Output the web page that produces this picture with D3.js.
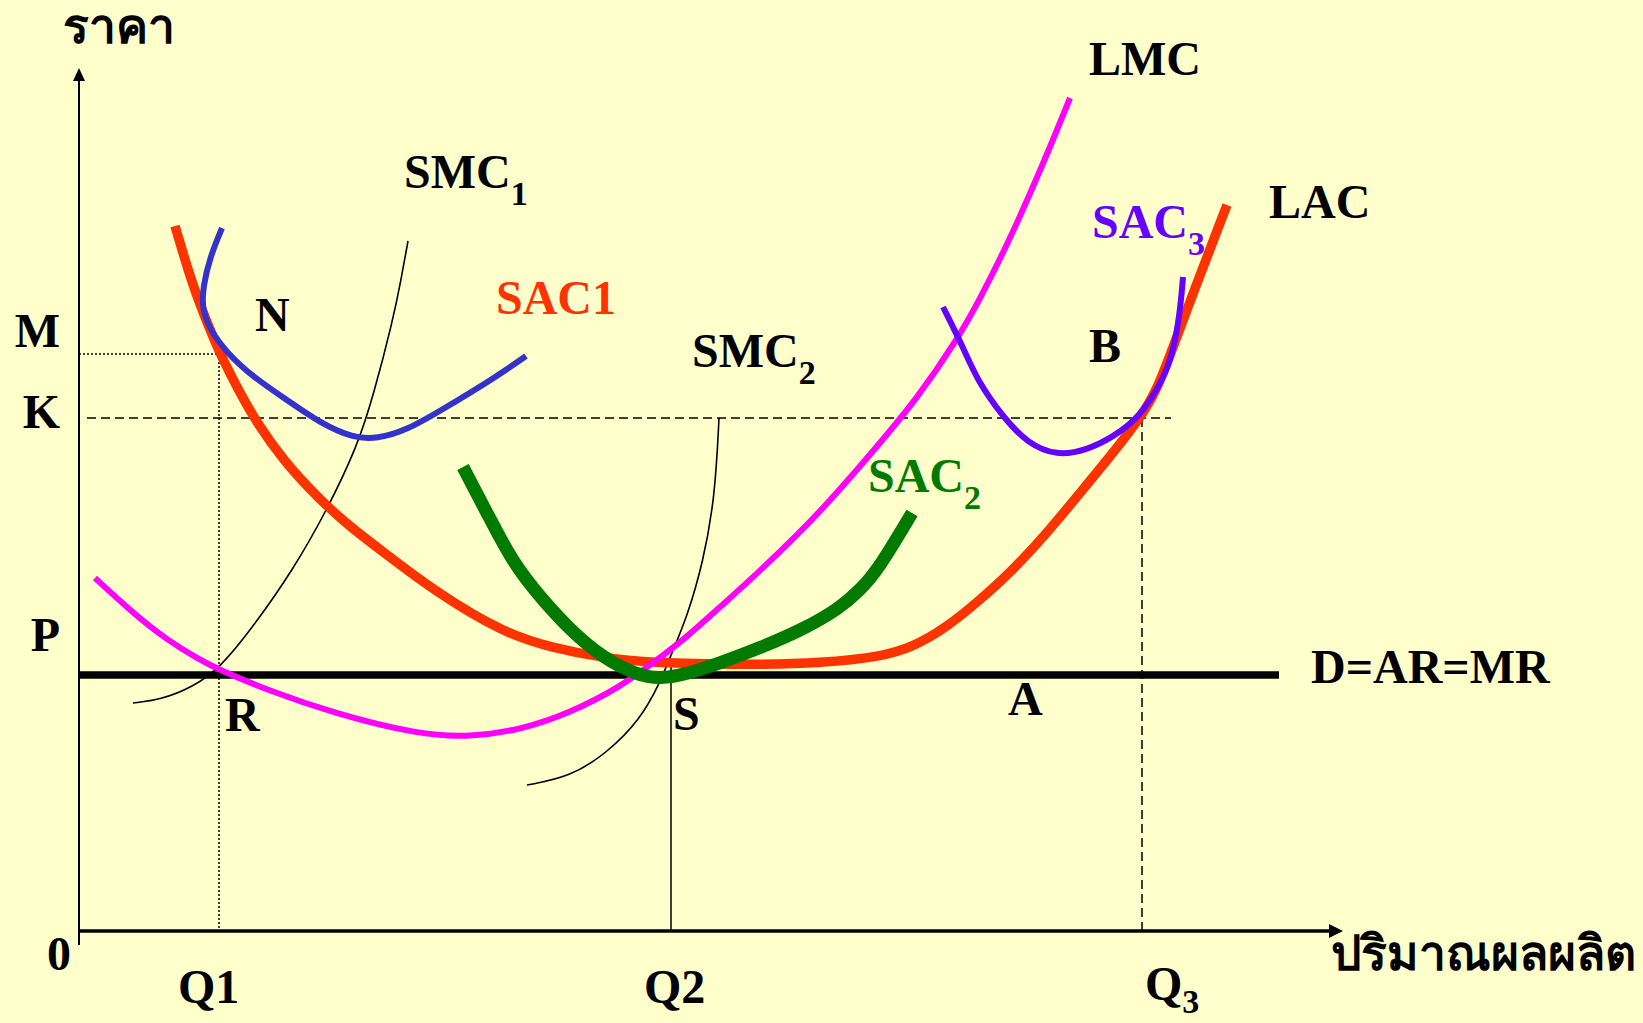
<!DOCTYPE html>
<html lang="th">
<head>
<meta charset="utf-8">
<title>LAC / SAC</title>
<script src="https://d3js.org/d3.v7.min.js"></script>
<style>
  html, body { margin: 0; padding: 0; background: #FFFFCC; }
  svg { display: block; }
  text { font-family: "Liberation Serif", "Times New Roman", serif; font-weight: bold; fill: #000; }
  .thai { font-family: "Liberation Serif", "DejaVu Serif", "DejaVu Sans", serif; }
</style>
</head>
<body>
<div id="chart"></div>
<script>
// --- data (quantity, price) --------------------------------------------
var lacPts = [[9.6,70.5],[11.4,64.4],[13.1,60.1],[14.4,57.1],[16.1,53.8],[17.8,50.8],[20.4,47.1],
  [23.8,43.4],[27.1,40.4],[31.1,37.4],[35.4,34.1],[42.4,29.8],[47.4,28.3],[52.4,27.3],[57.4,26.8],
  [68.1,26.6],[74.1,26.8],[80.1,27.4],[83.4,28.4],[86.8,30.4],[90.1,33.1],[93.4,36.1],[96.8,39.8],
  [100.1,43.8],[103.4,47.8],[106.1,51.3],[107.7,53.9],[109.3,58.1],[111.8,64.8],[114.1,70.8],
  [114.8,72.6]];
var sac1Pts = [[14.3,70.3],[13.1,67.4],[12.4,64.4],[12.3,62.3],[13.1,60.1],[14.8,57.8],[17.4,55.4],
  [20.8,53.1],[24.1,50.8],[27.4,49.3],[29.8,49.2],[32.8,50.1],[36.1,52.0],[41.7,55.4],[44.7,57.5]];
var smc1Pts = [[32.9,69.0],[32.2,65.1],[31.4,61.1],[29.4,53.4],[27.8,48.4],[24.8,42.1],[21.4,36.1],
  [17.4,30.4],[14.1,26.3],[11.4,24.4],[8.1,23.1],[5.4,22.8]];
var lmcPts = [[1.6,35.3],[5.4,31.8],[8.8,29.1],[12.1,27.1],[14.1,26.1],[18.8,24.1],[25.4,21.8],
  [34.1,19.6],[39.1,19.4],[44.1,20.1],[49.1,21.8],[54.1,24.4],[57.4,26.8],[60.8,29.4],[64.1,32.4],
  [68.1,36.0],[74.1,41.8],[80.1,48.8],[83.7,53.1],[87.8,59.1],[90.1,63.2],[92.8,68.6],[95.1,73.7],
  [97.4,79.1],[99.1,83.3]];
var smc2Pts = [[64.0,51.3],[63.6,43.4],[62.4,36.8],[60.8,31.4],[59.4,28.1],[58.1,24.8],[56.1,21.1],
  [52.8,17.8],[49.1,15.4],[44.8,14.6]];
var sac2Pts = [[38.4,46.4],[40.8,41.8],[43.4,36.8],[46.1,33.4],[49.1,30.1],[52.4,27.3],[55.8,25.6],
  [58.1,25.2],[60.8,25.7],[64.1,26.8],[68.1,28.3],[72.5,30.2],[76.1,32.3],[78.1,34.1],[79.9,36.1],
  [83.3,41.8]];
var sac3Pts = [[86.4,62.4],[88.4,58.4],[89.8,55.1],[92.4,51.4],[94.8,48.8],[97.8,47.5],[100.8,48.1],
  [103.4,49.4],[106.1,51.4],[108.4,55.1],[109.4,57.8],[110.1,61.8],[110.4,65.4]];

// reference levels
var priceP = 25.6, priceK = 51.3, priceM = 57.7;
var q1 = 14.0, q2 = 59.2, q3 = 106.3;
var demandEnd = 120;

// --- setup ---------------------------------------------------------------
var W = 1643, H = 1023;
var svg = d3.select("#chart").append("svg").attr("width", W).attr("height", H);

var x = d3.scaleLinear().domain([0, 130]).range([79, 1379]);
var y = d3.scaleLinear().domain([0, 90]).range([931, 31]);

// basis smooths out small reading errors in the traced points
var line = d3.line()
  .x(function(d){ return x(d[0]); })
  .y(function(d){ return y(d[1]); })
  .curve(d3.curveBasis);

function seg(x1, y1, x2, y2, w, dash) {
  var l = svg.append("line")
    .attr("x1", x(x1)).attr("y1", y(y1))
    .attr("x2", x(x2)).attr("y2", y(y2))
    .attr("stroke", "#000").attr("stroke-width", w);
  if (dash) l.attr("stroke-dasharray", dash);
  return l;
}

// guide lines
seg(0, priceM, q1, priceM, 1.5, "2,2");
seg(q1, priceM, q1, 0, 1.5, "2,2");
seg(0.8, priceK, 109.2, priceK, 1.5, "9,5");
seg(q3, priceK, q3, 0, 1.5, "9,5");
seg(q2, 27.1, q2, 0, 1.5);

// axes
seg(0, -1.4, 0, 85, 2);
seg(0, 0, 125, 0, 3.5);
svg.append("path")
  .attr("d", "M" + x(0) + "," + y(86.3) + "l-6,13l12,0z")
  .attr("fill", "#000");
svg.append("path")
  .attr("d", "M" + x(126.4) + "," + y(0) + "l-14,-7l0,14z")
  .attr("fill", "#000");

// demand
seg(0, priceP, demandEnd, priceP, 7.5);

// curves
function curve(pts, color, w) {
  svg.append("path").datum(pts)
    .attr("d", line)
    .attr("fill", "none")
    .attr("stroke", color)
    .attr("stroke-width", w)
    .attr("stroke-linecap", "butt");
}
curve(smc1Pts, "#000", 1.6);
curve(smc2Pts, "#000", 1.6);
curve(lacPts, "#FF3300", 9.5);
curve(lmcPts, "#FF00FF", 6);
curve(sac2Pts, "#007A00", 13);
curve(sac1Pts, "#3333CC", 6);
curve(sac3Pts, "#6600FF", 6);

// labels
function label(px, py, txt, opts) {
  opts = opts || {};
  var t = svg.append("text")
    .attr("x", px).attr("y", py)
    .style("font-size", (opts.size || 48) + "px")
    .style("fill", opts.color || "#000")
    .attr("text-anchor", opts.anchor || "start");
  if (opts.cls) t.attr("class", opts.cls);
  t.append("tspan").text(txt);
  if (opts.sub) {
    t.append("tspan").attr("dy", opts.subDy || 17).style("font-size", "34px").text(opts.sub);
  }
  return t;
}

label(63, 43, "ราคา", {cls: "thai"});
label(1331, 970, "ปริมาณผลผลิต", {cls: "thai"});
label(47, 970, "0");
label(178, 1003, "Q1");
label(644, 1003, "Q2");
label(1145, 1000, "Q", {sub: "3", subDy: 13});
label(60, 347, "M", {anchor: "end"});
label(60, 428, "K", {anchor: "end"});
label(60, 651, "P", {anchor: "end"});
label(255, 331, "N");
label(225, 731, "R");
label(673, 730, "S");
label(1008, 715, "A");
label(1089, 362, "B");
label(404, 188, "SMC", {sub: "1"});
label(496, 314, "SAC1", {color: "#FF3300"});
label(692, 367, "SMC", {sub: "2"});
label(868, 492, "SAC", {sub: "2", color: "#007A00"});
label(1089, 75, "LMC");
label(1092, 238, "SAC", {sub: "3", color: "#6600FF"});
label(1269, 218, "LAC");
label(1311, 683, "D=AR=MR");
</script>
</body>
</html>
